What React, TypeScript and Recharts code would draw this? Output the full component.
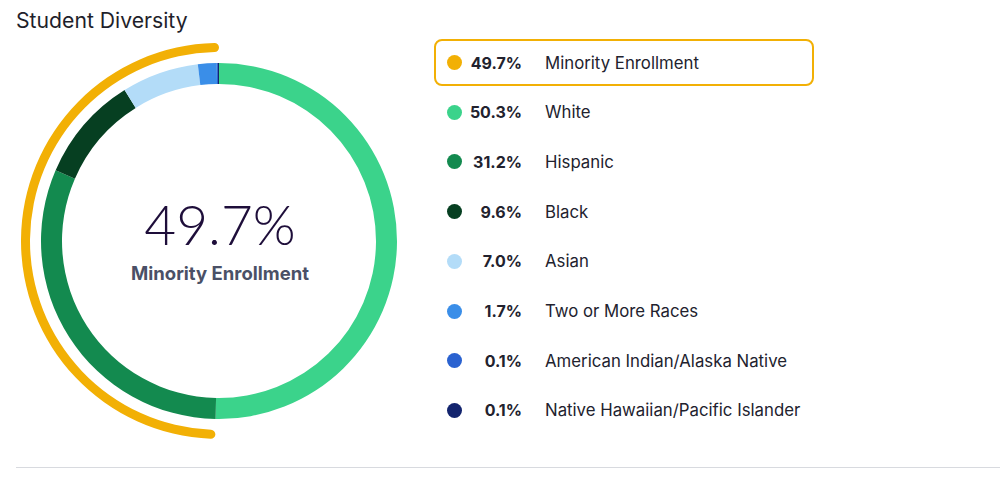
import React from 'react'
import { PieChart, Pie, Cell } from 'recharts'

const groups = ['White', 'Hispanic', 'Black', 'Asian', 'Two or More Races', 'American Indian/Alaska Native', 'Native Hawaiian/Pacific Islander']
const shares = [50.3, 31.2, 9.6, 7.0, 1.7, 0.1, 0.1]
const groupColors = ['#3bd38b', '#138a4f', '#063f21', '#b3dcf8', '#3a8ee8', '#2a62d0', '#13246e']

const minorityLabel = 'Minority Enrollment'
const minorityShare = 49.7
const minorityColor = '#f2b005'

const FONT = 'Inter, Roboto, "Noto Sans", sans-serif'

export default function App() {
  const ring = groups.map((name, i) => ({ name, value: shares[i], color: groupColors[i] }))
  const arc = [
    { name: minorityLabel, value: minorityShare },
    { name: 'rest', value: 100 - minorityShare },
  ]
  const legend = [
    { name: minorityLabel, value: minorityShare, color: minorityColor },
    ...ring,
  ]

  return (
    <div style={{ position: 'absolute', left: 0, top: 0, width: 1000, height: 486, background: '#fff', fontFamily: FONT, overflow: 'hidden' }}>
      <div style={{ position: 'absolute', left: 16, top: 7, fontSize: 21.2, color: '#1f1f2b' }}>Student Diversity</div>

      <div style={{ position: 'absolute', left: 0, top: 0 }}>
        <PieChart width={440} height={486} margin={{ top: 0, right: 0, bottom: 0, left: 0 }}>
          <Pie data={ring} dataKey="value" nameKey="name" cx={219} cy={241}
            innerRadius={157} outerRadius={178} startAngle={90} endAngle={-270}
            stroke="none" isAnimationActive={false}>
            {ring.map((d, i) => <Cell key={i} fill={d.color} />)}
          </Pie>
          <Pie data={arc} dataKey="value" cx={219} cy={241}
            innerRadius={189} outerRadius={198} startAngle={90} endAngle={450}
            cornerRadius={5} stroke="none" isAnimationActive={false}>
            <Cell fill={minorityColor} />
            <Cell fill="transparent" />
          </Pie>
          <text x={220} y={245} textAnchor="middle" fontFamily="Lato, sans-serif" fontWeight={300} fontSize={55} fill="#1e0e3a">
            {minorityShare.toFixed(1)}%
          </text>
          <text x={220} y={280} textAnchor="middle" fontFamily={FONT} fontWeight={700} fontSize={18.5} fill="#4a5066">
            {minorityLabel}
          </text>
        </PieChart>
      </div>

      {legend.map((d, i) => (
        <div key={d.name} style={{
          position: 'absolute', left: 434, top: 39 + i * 49.7, width: 380, height: 47,
          boxSizing: 'border-box', border: i === 0 ? `2px solid ${minorityColor}` : '2px solid transparent',
          borderRadius: 8, display: 'flex', alignItems: 'center', fontSize: 16.8, color: '#22222e',
        }}>
          <span style={{ position: 'absolute', left: 11, width: 15, height: 15, borderRadius: '50%', background: d.color }} />
          <span style={{ position: 'absolute', right: 380 - 90, fontWeight: 650, fontSize: 16 }}>{d.value.toFixed(1)}%</span>
          <span style={{ position: 'absolute', left: 109 }}>{d.name}</span>
        </div>
      ))}

      <div style={{ position: 'absolute', left: 16, right: 0, top: 467, height: 1, background: '#d8dadf' }} />
    </div>
  )
}
